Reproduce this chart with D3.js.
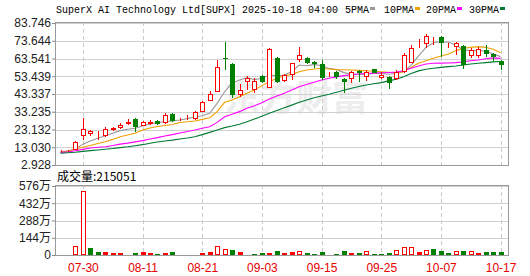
<!DOCTYPE html>
<html>
<head>
<meta charset="utf-8">
<script src="https://cdn.jsdelivr.net/npm/d3@7/dist/d3.min.js"></script>
<style>
  body { margin: 0; background: #fff; }
  svg { display: block; }
</style>
</head>
<body>
<svg id="chart" width="530" height="276"></svg>
<script>
// trading days shown (MM-DD), 2025
var dates = ["07-25","07-28","07-29","07-30","07-31","08-01","08-04","08-05","08-06","08-07",
  "08-08","08-11","08-12","08-13","08-14","08-15","08-18","08-19","08-20","08-21",
  "08-22","08-25","08-26","08-27","08-28","08-29","09-02","09-03","09-04","09-05",
  "09-08","09-09","09-10","09-11","09-12","09-15","09-16","09-17","09-18","09-19",
  "09-22","09-23","09-24","09-25","09-26","09-29","09-30","10-01","10-02","10-03",
  "10-06","10-07","10-08","10-09","10-10","10-13","10-14","10-15","10-16","10-17"];

var openP  = [10.8,10.9,11.5,19.6,20.6,20.2,19.6,23.0,24.2,26.1,28.9,25.3,26.4,28.1,27.0,32.0,28.3,28.8,29.1,33.3,
  39.5,44.6,63.9,60.4,42.8,50.0,45.6,53.6,46.9,63.9,50.7,54.1,62.7,64.0,61.7,60.2,54.5,55.7,51.7,51.9,
  56.6,52.9,57.4,52.3,53.2,51.7,55.7,61.2,70.5,71.8,73.9,75.6,71.0,70.3,70.7,65.0,65.0,68.4,66.1,62.1];
var highP  = [11.4,11.5,16.6,29.9,23.0,22.3,24.5,24.7,26.8,29.1,29.9,28.0,28.3,28.7,32.3,32.5,29.5,31.4,33.6,39.2,
  45.0,62.7,72.9,61.0,49.0,53.6,52.3,54.0,69.7,64.5,54.8,61.0,70.3,64.5,62.0,62.7,56.0,56.2,52.3,56.6,
  57.0,57.0,57.8,55.7,53.6,57.0,66.5,71.2,74.5,77.5,75.6,76.4,72.5,73.1,71.2,69.3,70.0,71.2,66.8,62.7];
var lowP   = [10.2,10.6,11.2,17.2,19.6,17.2,19.0,22.3,23.4,25.7,21.9,24.9,25.9,25.9,26.1,27.6,27.9,28.5,28.5,33.0,
  39.2,44.3,57.0,41.2,41.8,45.6,43.7,49.5,46.6,49.8,50.0,51.3,61.4,60.2,58.3,51.3,53.2,51.7,43.7,49.4,
  50.0,50.9,55.2,52.0,46.0,51.3,55.2,61.0,69.3,69.3,71.2,64.6,69.3,65.5,57.4,63.7,63.7,64.6,62.3,57.0];
var closeP = [11.0,11.2,15.8,23.4,22.3,20.5,23.4,24.2,25.7,27.6,24.7,27.2,27.6,26.4,31.4,28.0,28.7,29.2,32.9,38.6,
  43.2,58.9,63.6,42.8,45.6,52.3,50.7,50.0,68.9,50.3,54.1,60.8,65.5,60.8,60.2,52.3,54.9,53.2,50.3,55.7,
  55.1,55.7,55.5,54.1,49.4,56.0,65.5,69.3,70.9,76.4,74.3,72.2,71.4,72.2,59.8,68.4,69.0,66.1,64.2,59.8];
var volume = [100000,110000,750000,5320000,580000,250000,250000,170000,170000,80000,
  170000,250000,170000,80000,170000,250000,80000,80000,90000,170000,
  250000,750000,500000,420000,220000,80000,80000,170000,170000,330000,
  170000,250000,330000,170000,80000,250000,80000,80000,330000,170000,
  170000,330000,80000,80000,170000,420000,670000,670000,250000,420000,
  500000,330000,170000,330000,330000,330000,170000,250000,250000,215051];

var ma5  = [10.5,11.0,12.0,14.8,16.6,18.2,19.6,21.0,22.5,23.3,23.8,25.2,26.3,27.1,27.6,28.0,28.5,29.3,30.2,31.0,
  32.3,38.0,44.6,49.5,51.3,52.6,51.5,52.3,54.1,53.7,54.1,56.0,59.8,59.4,60.2,59.4,57.9,57.2,55.5,54.5,
  54.5,54.6,55.0,55.1,54.6,55.0,56.0,59.8,65.0,69.9,72.5,73.1,72.8,71.2,68.4,68.0,68.0,67.8,66.1,64.6];
var ma10 = [10.1,10.8,12.0,13.0,14.0,15.2,16.2,17.5,19.0,20.0,21.0,22.8,24.0,24.8,25.4,26.0,27.1,27.5,28.0,28.9,
  29.8,33.3,38.6,39.9,41.8,43.7,45.6,48.1,50.3,52.3,53.6,54.5,56.0,57.0,57.6,58.0,57.6,57.2,57.1,57.0,
  56.8,56.6,56.3,56.0,55.7,55.5,56.0,58.5,60.8,62.3,63.7,65.0,66.1,68.0,69.3,69.9,70.3,69.9,68.8,66.8];
var ma20 = [10.1,10.4,11.0,11.8,12.6,13.0,13.3,14.0,14.8,15.4,16.1,16.8,17.7,18.5,19.4,20.2,21.1,22.0,22.8,23.8,
  24.7,27.2,30.4,31.8,33.3,35.2,36.7,38.4,40.5,42.2,43.7,45.6,47.5,48.8,50.0,51.3,52.3,53.1,53.8,54.3,
  54.7,55.0,55.2,55.4,55.6,55.8,56.6,58.0,59.3,60.4,60.8,60.9,61.0,61.2,61.7,62.3,62.7,63.4,63.9,63.6];
var ma30 = [9.6,9.9,10.2,10.7,11.1,11.5,11.9,12.3,12.8,13.3,13.9,14.5,15.3,16.0,16.6,17.1,17.7,18.3,19.0,20.2,
  21.5,22.8,24.2,25.1,26.1,27.6,29.1,30.7,32.4,34.0,35.5,37.0,38.6,39.9,41.2,42.2,43.2,44.3,45.5,46.6,
  47.6,48.5,49.2,49.8,50.8,51.7,53.2,55.0,56.5,57.4,58.0,58.5,58.9,59.3,59.8,60.4,60.8,61.2,61.6,61.8];

var maNames  = ["5PMA", "10PMA", "20PMA", "30PMA"];
var maColors = ["#999999", "#f0a000", "#ff00ff", "#007a33"];

var priceTicks = [2.928, 13.030, 23.132, 33.235, 43.337, 53.439, 63.541, 73.644, 83.746];
var volTicks = [0, 1440000, 2880000, 4320000, 5760000];
var volTickLabels = ["0", "144万", "288万", "432万", "576万"];
var xTickDates = ["07-30", "08-11", "08-21", "09-03", "09-15", "09-25", "10-07", "10-17"];

var RED = "#ff0000", GREEN = "#008000";

var svg = d3.select("#chart");
var left = 55, right = 509;

var x = d3.scalePoint().domain(dates).range([60.5, 500.6]);
var y = d3.scaleLinear().domain([priceTicks[0], priceTicks[priceTicks.length - 1]]).range([165, 23]);
var yVol = d3.scaleLinear().domain([0, volTicks[volTicks.length - 1]]).range([255, 186]);

function crisp(v) { return Math.round(v) + 0.5; }

// title + legend (monospace, 6px a character)
svg.append("text")
   .attr("x", 56).attr("y", 13)
   .attr("font-family", "Liberation Mono, monospace")
   .attr("font-size", 10)
   .attr("fill", "#000")
   .text("SuperX AI Technology Ltd[SUPX] 2025-10-18 04:00");

var legendX = [345, 384, 426, 469];
maNames.forEach(function(name, i) {
    svg.append("text")
       .attr("x", legendX[i]).attr("y", 13)
       .attr("font-family", "Liberation Mono, monospace")
       .attr("font-size", 10)
       .text(name);
    svg.append("rect")
       .attr("x", legendX[i] + name.length * 6 + 1).attr("y", 7)
       .attr("width", 5).attr("height", 3)
       .attr("fill", maColors[i]);
});

// watermark
svg.append("text")
   .attr("x", 224).attr("y", 111)
   .attr("font-family", "Noto Sans CJK SC")
   .attr("font-size", 36).attr("font-weight", "bold")
   .attr("fill", "#ededed")
   .text("东方财富");

// grids
function drawGrid(yScale, ticks, top, bottom) {
    var g = svg.append("g");
    ticks.forEach(function(t) {
        g.append("line")
         .attr("x1", left).attr("x2", right)
         .attr("y1", crisp(yScale(t))).attr("y2", crisp(yScale(t)))
         .attr("stroke", "#d0d0d0");
    });
    xTickDates.forEach(function(d) {
        g.append("line")
         .attr("x1", crisp(x(d))).attr("x2", crisp(x(d)))
         .attr("y1", top).attr("y2", bottom)
         .attr("stroke", "#cccccc")
         .attr("stroke-dasharray", "4,3");
    });
    svg.append("rect")
       .attr("x", left + 0.5).attr("y", top + 0.5)
       .attr("width", right - left - 1).attr("height", bottom - top - 1)
       .attr("fill", "none").attr("stroke", "#999");
}
drawGrid(y, priceTicks, 22, 166);
drawGrid(yVol, volTicks, 185, 256);

// price axis
var yAxis = svg.append("g")
   .attr("transform", "translate(" + left + ",0)")
   .call(d3.axisLeft(y).tickValues(priceTicks).tickFormat(d3.format(".3f")).tickSize(3).tickPadding(1));
yAxis.select(".domain").remove();
yAxis.selectAll("line").attr("stroke", "#888");
yAxis.selectAll("text")
     .attr("font-family", "Liberation Sans, Arial, sans-serif")
     .attr("font-size", 12).attr("fill", "#222");

// volume axis
var vAxis = svg.append("g")
   .attr("transform", "translate(" + left + ",0)")
   .call(d3.axisLeft(yVol).tickValues(volTicks).tickFormat(function(d, i) { return volTickLabels[i]; }).tickSize(3).tickPadding(1));
vAxis.select(".domain").remove();
vAxis.selectAll("line").attr("stroke", "#888");
vAxis.selectAll("text")
     .attr("font-family", "Liberation Sans, Noto Sans CJK SC, sans-serif")
     .attr("font-size", 12).attr("fill", "#222");

// date axis
var xAxis = svg.append("g")
   .attr("transform", "translate(0,255)")
   .call(d3.axisBottom(x).tickValues(xTickDates).tickSize(0).tickPadding(8));
xAxis.select(".domain").remove();
xAxis.selectAll("text")
     .attr("font-family", "Liberation Sans, Arial, sans-serif")
     .attr("font-size", 12).attr("fill", "#e60000");

// moving averages
var maSeries = [ma5, ma10, ma20, ma30];
maSeries.forEach(function(series, k) {
    var line = d3.line()
        .x(function(d, i) { return x(dates[i]); })
        .y(function(d) { return y(d); });
    svg.append("path")
       .datum(series)
       .attr("d", line)
       .attr("fill", "none")
       .attr("stroke", maColors[k])
       .attr("stroke-width", 1.1);
});

// candles
var candles = svg.append("g");
dates.forEach(function(d, i) {
    var px = Math.round(x(d));
    var up = closeP[i] >= openP[i];
    var col = up ? RED : GREEN;
    candles.append("line")
       .attr("x1", px + 0.5).attr("x2", px + 0.5)
       .attr("y1", Math.round(y(highP[i]))).attr("y2", Math.round(y(lowP[i])))
       .attr("stroke", col);
    var top = Math.round(y(Math.max(openP[i], closeP[i])));
    var bot = Math.round(y(Math.min(openP[i], closeP[i])));
    var h = Math.max(1, bot - top);
    if (up) {
        candles.append("rect")
           .attr("x", px - 1.5).attr("y", top + 0.5)
           .attr("width", 4).attr("height", Math.max(0, h - 1))
           .attr("fill", "#fff").attr("stroke", RED);
    } else {
        candles.append("rect")
           .attr("x", px - 2).attr("y", top)
           .attr("width", 5).attr("height", h)
           .attr("fill", GREEN);
    }
});

// volume bars, coloured by close vs previous close
var bars = svg.append("g");
dates.forEach(function(d, i) {
    var px = Math.round(x(d));
    var up = i === 0 ? closeP[i] >= openP[i] : closeP[i] >= closeP[i - 1];
    var top = Math.round(yVol(volume[i]));
    var h = Math.max(1, 255 - top);
    if (up) {
        bars.append("rect")
           .attr("x", px - 1.5).attr("y", top + 0.5)
           .attr("width", 4).attr("height", Math.max(0, h - 1))
           .attr("fill", h > 3 ? "#fff" : RED).attr("stroke", RED);
    } else {
        bars.append("rect")
           .attr("x", px - 2).attr("y", top)
           .attr("width", 5).attr("height", h)
           .attr("fill", GREEN);
    }
});

svg.append("text")
   .attr("x", 57).attr("y", 181)
   .attr("font-family", "Noto Sans CJK SC, sans-serif")
   .attr("font-size", 12)
   .text("成交量:" + volume[volume.length - 1]);
</script>
</body>
</html>
